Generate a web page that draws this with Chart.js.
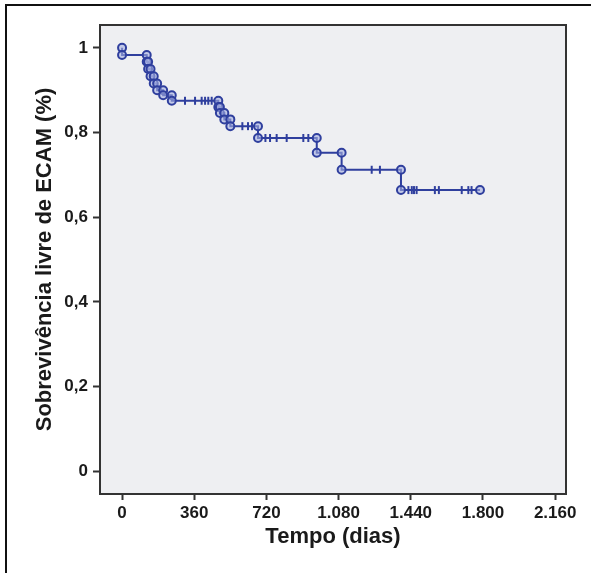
<!DOCTYPE html>
<html>
<head>
<meta charset="utf-8">
<script src="https://cdn.jsdelivr.net/npm/chart.js@4"></script>
<style>
  body { margin: 0; background: #fff; }
  .frame { position: absolute; left: 5px; top: 4px; width: 640px; height: 640px; border-top: 2px solid #111; border-left: 2px solid #111; }
  #km { position: absolute; left: 0; top: 0; }
</style>
</head>
<body>
<div class="frame"></div>
<canvas id="km" width="591" height="573"></canvas>
<script>
// Kaplan-Meier: dias dos eventos e sobrevida após cada evento
const eventDays = [0, 123, 130, 142, 158, 175, 205, 248, 480, 488, 510, 540, 678, 971, 1095, 1391];
const survival  = [0.983, 0.967, 0.950, 0.933, 0.916, 0.900, 0.888, 0.875, 0.860, 0.846, 0.831, 0.815, 0.787, 0.752, 0.712, 0.664];
// censuras
const censorDays = [314, 364, 397, 414, 430, 447, 600, 628, 648, 715, 738, 771, 821, 904, 929,
  1245, 1286, 1428, 1445, 1456, 1469, 1560, 1580, 1694, 1727, 1743];
const lastDay = 1785;
const xTicks = [0, 360, 720, 1080, 1440, 1800, 2160];
const yTicks = [0, 0.2, 0.4, 0.6, 0.8, 1];

const blue = '#2f3f9e';
const ink = '#1a1a1a';
const fam = '"Liberation Sans", Arial, sans-serif';

function survivalAt(day) {
  let s = 1;
  eventDays.forEach((d, i) => { if (d <= day) s = survival[i]; });
  return s;
}

function fmtDays(v) {
  if (v < 1000) return String(v);
  return Math.floor(v / 1000) + '.' + String(v % 1000).padStart(3, '0');
}

const stepData = [{ x: 0, y: 1 }]
  .concat(eventDays.map((d, i) => ({ x: d, y: survival[i] })))
  .concat([{ x: lastDay, y: survival[survival.length - 1] }]);

const circleData = eventDays
  .flatMap((d, i) => [{ x: d, y: i ? survival[i - 1] : 1 }, { x: d, y: survival[i] }])
  .concat([{ x: lastDay, y: survival[survival.length - 1] }]);

const censorData = censorDays.map(d => ({ x: d, y: survivalAt(d) }));

const plotFrame = {
  id: 'plotFrame',
  beforeDraw(chart) {
    const { ctx, chartArea: a } = chart;
    ctx.save();
    ctx.fillStyle = '#eeeff2';
    ctx.fillRect(a.left, a.top, a.width, a.height);
    ctx.restore();
  },
  beforeDatasetsDraw(chart) {
    const { ctx, chartArea: a } = chart;
    ctx.save();
    ctx.strokeStyle = '#333';
    ctx.lineWidth = 2;
    ctx.strokeRect(a.left, a.top, a.width, a.height);
    ctx.restore();
  }
};

new Chart(document.getElementById('km').getContext('2d'), {
  type: 'scatter',
  data: {
    datasets: [
      {
        data: circleData,
        pointStyle: 'circle',
        pointRadius: 4,
        borderWidth: 2,
        borderColor: blue,
        backgroundColor: 'rgba(165,175,225,0.6)'
      },
      {
        data: censorData,
        pointStyle: 'line',
        rotation: 90,
        pointRadius: 4,
        borderWidth: 2,
        borderColor: blue
      },
      {
        data: stepData,
        showLine: true,
        stepped: 'before',
        pointRadius: 0,
        borderWidth: 2,
        borderColor: blue
      }
    ]
  },
  options: {
    responsive: false,
    animation: false,
    layout: { padding: { top: 25, right: 25, left: 0, bottom: 0 } },
    plugins: { legend: { display: false }, tooltip: { enabled: false } },
    scales: {
      x: {
        type: 'linear', min: -110, max: 2214,
        afterBuildTicks: s => { s.ticks = xTicks.map(v => ({ value: v })); },
        afterFit: s => { s.height = 79; },
        border: { display: false },
        grid: { drawOnChartArea: false, tickLength: 6, tickWidth: 2, tickColor: '#333' },
        ticks: { font: { family: fam, size: 17, weight: 'bold' }, color: ink, padding: 3, maxRotation: 0, autoSkip: false, callback: v => fmtDays(v) },
        title: { display: true, text: 'Tempo (dias)', color: ink, font: { family: fam, size: 22, weight: 'bold' }, padding: { top: 0, bottom: 23 } }
      },
      y: {
        min: -0.054, max: 1.054,
        afterBuildTicks: s => { s.ticks = yTicks.map(v => ({ value: v })); },
        afterFit: s => { s.width = 100; },
        border: { display: false },
        grid: { drawOnChartArea: false, tickLength: 7, tickWidth: 2, tickColor: '#333' },
        ticks: { font: { family: fam, size: 17, weight: 'bold' }, color: ink, padding: 5, callback: v => String(v).replace('.', ',') },
        title: { display: true, text: 'Sobrevivência livre de ECAM (%)', color: ink, font: { family: fam, size: 22, weight: 'bold' }, padding: { top: 32, bottom: 0 } }
      }
    }
  },
  plugins: [plotFrame]
});
</script>
</body>
</html>
